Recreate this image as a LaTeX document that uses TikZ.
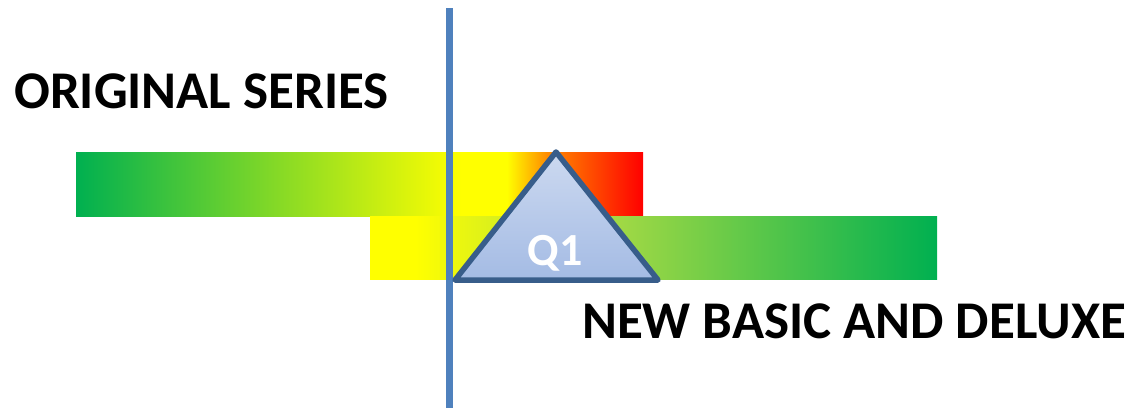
\documentclass[tikz,border=0pt]{standalone}
\usepackage{fontspec}
\setmainfont{Carlito}
\definecolor{barGreen}{RGB}{0,176,80}
\definecolor{barYellowGreen}{RGB}{166,218,68}
\definecolor{barOrange}{RGB}{255,140,0}
\definecolor{lineBlue}{RGB}{79,129,189}
\definecolor{triBorder}{RGB}{56,93,138}
\definecolor{triTop}{RGB}{204,217,240}
\definecolor{triBottom}{RGB}{164,187,228}
\pgfdeclarehorizontalshading{oldbar}{100bp}{color(0bp)=(barGreen); color(25bp)=(barGreen); color(59bp)=(yellow); color(63bp)=(yellow); color(66.5bp)=(barOrange); color(75bp)=(red); color(100bp)=(red)}
\pgfdeclarehorizontalshading{newbar}{100bp}{color(0bp)=(yellow); color(25bp)=(yellow); color(29bp)=(yellow); color(46bp)=(barYellowGreen); color(75bp)=(barGreen); color(100bp)=(barGreen)}
\tikzset{
  label text/.style={anchor=base west,inner sep=0,font=\fontsize{53pt}{53pt}\selectfont\bfseries},
}
\begin{document}
\begin{tikzpicture}[x=1pt,y=-1pt]
                  \useasboundingbox (0,0) rectangle (1128,408);
                  % original series bar
                  \shade [shading=oldbar] (76,152) rectangle (643,216);
                  % new basic and deluxe bar
                  \shade [shading=newbar] (370,216) rectangle (937,279);
                  % divider line
                  \coordinate (divtop) at (449,8);
                  \coordinate (divbottom) at (449,408);
                  \draw [line width=7, lineBlue] (divtop) -- (divbottom);
                  % Q1 triangle
                  \coordinate (apex) at (556,152);
                  \coordinate (baseleft) at (455,280);
                  \coordinate (baseright) at (658,280);
                  \shade [top color=triTop,bottom color=triBottom] (apex) -- (baseright) -- (baseleft) -- cycle;
                  \draw [line width=5.5, triBorder, line join=round] (apex) -- (baseright) -- (baseleft) -- cycle;
                  \node (q1) [anchor=base,inner sep=0,white,font=\fontsize{46pt}{46pt}\selectfont\bfseries] at (555,265) {Q1};
                  % labels
                  \node (original) [label text] at (14,108) {ORIGINAL SERIES};
                  \node (newseries) [label text] at (582,338) {NEW BASIC AND DELUXE};
               \end{tikzpicture}
\end{document}
